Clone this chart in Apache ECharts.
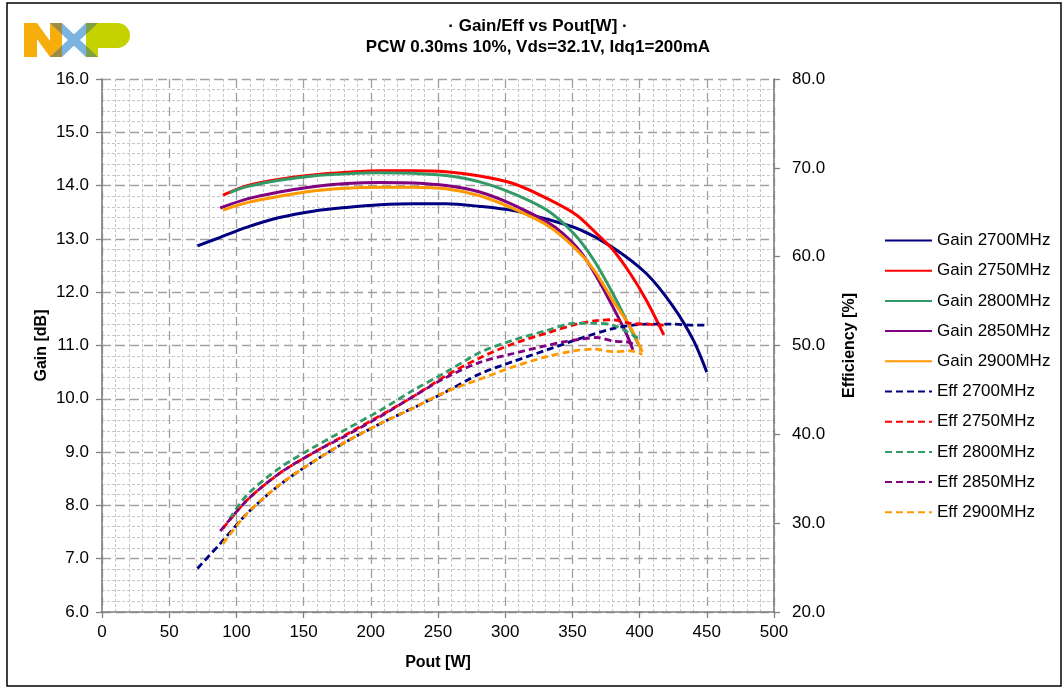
<!DOCTYPE html>
<html>
<head>
<meta charset="utf-8">
<script src="https://cdn.jsdelivr.net/npm/echarts@6/dist/echarts.min.js"></script>
<style>
html,body{margin:0;padding:0;background:#fff;}
#chart{width:1063px;height:689px;}
</style>
</head>
<body>
<div id="chart"></div>
<script>
// ---- data ----
const xTicks = [0, 50, 100, 150, 200, 250, 300, 350, 400, 450, 500];

const pout2700 = [71, 88, 108, 132, 157, 182, 207, 232, 256, 281, 306, 331, 356, 380, 405, 425, 440, 450];
const gain2700 = [12.87, 13.03, 13.22, 13.40, 13.52, 13.59, 13.64, 13.66, 13.66, 13.61, 13.53, 13.37, 13.17, 12.84, 12.35, 11.73, 11.10, 10.50];
const eff2700  = [24.9, 27.7, 31.1, 34.3, 36.9, 39.2, 41.2, 43.0, 44.8, 46.8, 48.2, 49.5, 50.8, 51.9, 52.4, 52.4, 52.3, 52.3];

const pout2750 = [90, 108, 132, 157, 182, 207, 232, 256, 281, 306, 331, 353, 368, 380, 393, 405, 418];
const gain2750 = [13.82, 14.00, 14.12, 14.20, 14.25, 14.28, 14.28, 14.26, 14.18, 14.04, 13.76, 13.45, 13.10, 12.80, 12.35, 11.85, 11.20];
const eff2750  = [29.4, 32.6, 35.6, 37.9, 40.0, 42.1, 44.3, 46.6, 48.6, 50.2, 51.4, 52.4, 52.8, 52.9, 52.5, 52.4, 52.3];

const pout2800 = [95, 108, 132, 157, 182, 207, 232, 256, 281, 306, 331, 351, 366, 380, 390, 400];
const gain2800 = [13.87, 13.98, 14.10, 14.18, 14.22, 14.24, 14.23, 14.19, 14.07, 13.85, 13.54, 13.10, 12.60, 11.98, 11.48, 10.98];
const eff2800  = [30.5, 33.2, 36.2, 38.5, 40.6, 42.7, 45.0, 47.0, 49.2, 50.6, 51.7, 52.5, 52.5, 52.3, 51.6, 50.7];

const pout2850 = [88, 108, 132, 157, 182, 207, 232, 256, 281, 306, 331, 343, 356, 368, 380, 390, 395];
const gain2850 = [13.58, 13.75, 13.88, 13.98, 14.04, 14.06, 14.05, 14.00, 13.88, 13.64, 13.32, 13.10, 12.76, 12.29, 11.73, 11.23, 10.92];
const eff2850  = [29.1, 32.6, 35.6, 37.9, 39.9, 42.0, 44.3, 46.4, 48.1, 49.1, 50.0, 50.4, 50.7, 50.9, 50.5, 50.4, 50.2];

const pout2900 = [90, 108, 132, 157, 182, 207, 232, 256, 281, 306, 331, 351, 366, 380, 393, 402];
const gain2900 = [13.54, 13.68, 13.80, 13.90, 13.95, 13.97, 13.97, 13.94, 13.81, 13.57, 13.26, 12.85, 12.42, 11.85, 11.35, 10.88];
const eff2900  = [27.7, 31.1, 34.3, 36.9, 39.2, 41.2, 43.0, 44.8, 46.2, 47.6, 48.75, 49.4, 49.6, 49.3, 49.4, 49.0];

const freqs = ['2700MHz', '2750MHz', '2800MHz', '2850MHz', '2900MHz'];
const colors = ['#000080', '#FF0000', '#339966', '#800080', '#FF9900'];
const pouts = [pout2700, pout2750, pout2800, pout2850, pout2900];
const gains = [gain2700, gain2750, gain2800, gain2850, gain2900];
const effs  = [eff2700, eff2750, eff2800, eff2850, eff2900];

// ---- chart ----
const FONT = '"Liberation Sans", Arial, sans-serif';
const zip = (xs, ys) => xs.map((x, i) => [x, ys[i]]);

const series = [];
freqs.forEach((f, i) => {
  series.push({
    name: 'Gain ' + f, type: 'line', yAxisIndex: 0, data: zip(pouts[i], gains[i]),
    showSymbol: false, symbol: 'none', smooth: 0.3,
    lineStyle: { color: colors[i], width: 3 }, itemStyle: { color: colors[i] }
  });
});
freqs.forEach((f, i) => {
  series.push({
    name: 'Eff ' + f, type: 'line', yAxisIndex: 1, data: zip(pouts[i], effs[i]),
    showSymbol: false, symbol: 'none', smooth: 0.3,
    lineStyle: { color: colors[i], width: 2.8, type: [7, 4] }, itemStyle: { color: colors[i] }
  });
});

const majorSplit = { show: true, lineStyle: { color: '#a0a0a0', width: 1.3, type: [9, 5] } };
const minorSplit = { show: true, lineStyle: { color: '#c6c6c6', width: 1, type: [3, 2] } };
const axisLine = { show: true, lineStyle: { color: '#808080', width: 1.6 } };
const labelStyle = { color: '#000', fontFamily: FONT, fontSize: 17 };
const nameStyle = { color: '#000', fontFamily: FONT, fontSize: 16, fontWeight: 'bold' };

const chart = echarts.init(document.getElementById('chart'), null, { renderer: 'canvas' });
chart.setOption({
  backgroundColor: '#fff',
  animation: false,
  title: {
    text: '· Gain/Eff vs Pout[W] ·\nPCW 0.30ms 10%, Vds=32.1V, Idq1=200mA',
    left: 533, top: 11, textAlign: 'center',
    textStyle: { fontFamily: FONT, fontSize: 17, fontWeight: 'bold', color: '#000', lineHeight: 21 }
  },
  legend: {
    orient: 'vertical', left: 884, top: 232, padding: 0,
    itemWidth: 47, itemHeight: 16, itemGap: 13.2,
    itemStyle: { opacity: 0 },
    textStyle: { fontFamily: FONT, fontSize: 17, color: '#000' },
    data: series.map(s => s.name)
  },
  grid: { left: 102, right: 289, top: 79, bottom: 77, containLabel: false },
  xAxis: {
    type: 'value', min: 0, max: 500, interval: 50,
    name: 'Pout [W]', nameLocation: 'middle', nameGap: 43, nameTextStyle: nameStyle,
    axisLine: axisLine,
    axisTick: { show: true, inside: false, length: 6, lineStyle: { color: '#808080', width: 1.3 } },
    axisLabel: Object.assign({ margin: 12 }, labelStyle),
    splitLine: majorSplit,
    minorTick: { show: false, splitNumber: 5 },
    minorSplitLine: minorSplit
  },
  yAxis: [
    {
      type: 'value', min: 6, max: 16, interval: 1, position: 'left',
      name: 'Gain [dB]', nameLocation: 'middle', nameGap: 52, nameRotate: 90, nameMoveOverlap: false, nameTextStyle: nameStyle,
      axisLine: axisLine,
      axisTick: { show: true, inside: false, length: 6, lineStyle: { color: '#808080', width: 1.3 } },
      axisLabel: Object.assign({ margin: 13, formatter: v => v.toFixed(1) }, labelStyle),
      splitLine: majorSplit,
      minorTick: { show: false, splitNumber: 5 },
      minorSplitLine: minorSplit
    },
    {
      type: 'value', min: 20, max: 80, interval: 10, position: 'right',
      name: 'Efficiency [%]', nameLocation: 'middle', nameGap: 68, nameRotate: 90, nameMoveOverlap: false, nameTextStyle: nameStyle,
      axisLine: axisLine,
      axisTick: { show: true, inside: false, length: 6, lineStyle: { color: '#808080', width: 1.3 } },
      axisLabel: Object.assign({ margin: 18, formatter: v => v.toFixed(1) }, labelStyle),
      splitLine: { show: false }
    }
  ],
  graphic: [
    { type: 'rect', silent: true, shape: { x: 7, y: 3, width: 1054, height: 683 }, style: { fill: 'none', stroke: '#000', lineWidth: 1.5 } },
    // NXP logo
    { type: 'polygon', silent: true, shape: { points: [[24,23],[37,23],[50,41],[50,23],[62,23],[62,57],[50,57],[37,39],[37,57],[24,57]] }, style: { fill: '#F7AE0C' } },
    { type: 'polygon', silent: true, shape: { points: [[50,23],[62,23],[98,57],[86,57]] }, style: { fill: '#7CB4DF' } },
    { type: 'polygon', silent: true, shape: { points: [[86,23],[98,23],[62,57],[50,57]] }, style: { fill: '#7CB4DF' } },
    { type: 'rect', silent: true, shape: { x: 86, y: 23, width: 44, height: 25, r: [0, 12.5, 12.5, 0] }, style: { fill: '#C6D200' } },
    { type: 'rect', silent: true, shape: { x: 86, y: 23, width: 12, height: 34 }, style: { fill: '#C6D200' } },
    { type: 'polygon', silent: true, shape: { points: [[50,23],[62,23],[62,34.3]] }, style: { fill: '#9E8B45' } },
    { type: 'polygon', silent: true, shape: { points: [[50,57],[62,57],[62,45.7]] }, style: { fill: '#9E8B45' } },
    { type: 'polygon', silent: true, shape: { points: [[86,57],[98,57],[86,45.7]] }, style: { fill: '#7FA043' } },
    { type: 'polygon', silent: true, shape: { points: [[86,23],[98,23],[86,34.3]] }, style: { fill: '#7FA043' } }
  ],
  series: series
});
</script>
</body>
</html>
